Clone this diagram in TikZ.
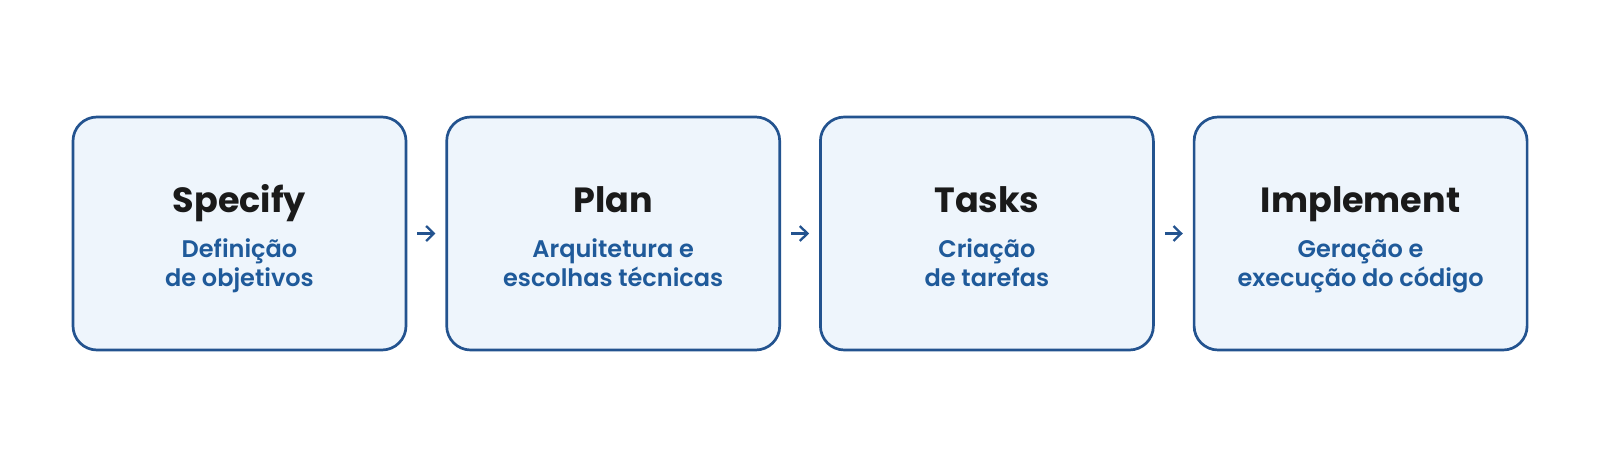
\documentclass[tikz,border=0pt]{standalone}
\usepackage{fontspec}
\setmainfont{Poppins}
\newfontfamily\subfont{Poppins}[UprightFont={* SemiBold}]
\usepackage{tikz}
\usetikzlibrary{arrows.meta, positioning}

\definecolor{boxline}{HTML}{23538F}
\definecolor{boxfill}{HTML}{EEF5FC}
\definecolor{subtext}{HTML}{1F5A9A}
\definecolor{titletext}{HTML}{1A1A1A}

\tikzset{
  stagebox/.style={draw=boxline, fill=boxfill, line width=1.35pt, rounded corners=12pt,
                   minimum width=166.5pt, minimum height=116.5pt},
  stagetitle/.style={anchor=base, text=titletext, font=\fontsize{17.5}{20}\bfseries\selectfont},
  stagesub/.style={anchor=base, align=center, text=subtext, font=\fontsize{12}{14.5}\subfont\selectfont},
  flow/.style={draw=boxline, line width=1.15pt, -{Straight Barb[length=3.8pt, width=7.5pt]},
               shorten <=5pt, shorten >=5pt}
}

\begin{document}
\begin{tikzpicture}[node distance=19pt]

\useasboundingbox (0,0) rectangle (800pt,233.5pt);

% ---- Stages ------------------------------------------------------------
\node[stagebox] (specify) at (119.75pt,116.75pt) {};
\node[stagebox, right=of specify] (plan) {};
\node[stagebox, right=of plan] (tasks) {};
\node[stagebox, right=of tasks] (implement) {};

% ---- Titles and descriptions -------------------------------------------
\node[stagetitle] (specifyT) at ([yshift=10.75pt]specify.center) {Specify};
\node[stagesub] (specifyS) at ([yshift=-26.25pt]specify.center) {Definição\\de objetivos};

\node[stagetitle] (planT) at ([yshift=10.75pt]plan.center) {Plan};
\node[stagesub] (planS) at ([yshift=-26.25pt]plan.center) {Arquitetura e\\escolhas técnicas};

\node[stagetitle] (tasksT) at ([yshift=10.75pt]tasks.center) {Tasks};
\node[stagesub] (tasksS) at ([yshift=-26.25pt]tasks.center) {Criação\\de tarefas};

\node[stagetitle] (implementT) at ([yshift=10.75pt]implement.center) {Implement};
\node[stagesub] (implementS) at ([yshift=-26.25pt]implement.center) {Geração e\\execução do código};

% ---- Arrows ------------------------------------------------------------
\draw[flow] (specify) -- (plan);
\draw[flow] (plan) -- (tasks);
\draw[flow] (tasks) -- (implement);

\end{tikzpicture}
\end{document}
